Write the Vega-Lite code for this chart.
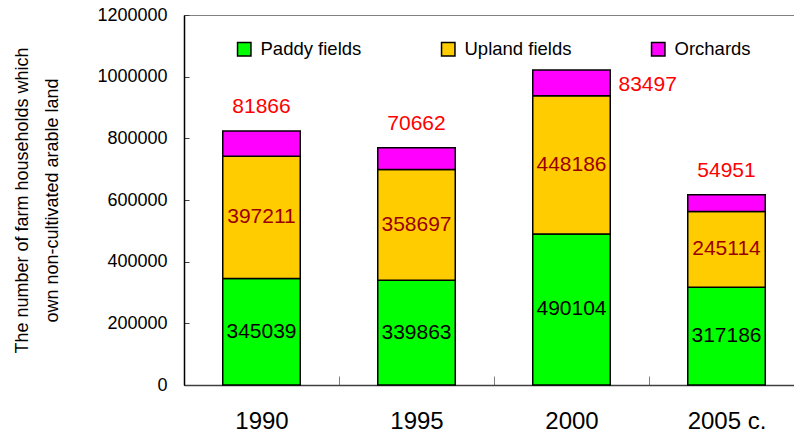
{
  "$schema": "https://vega.github.io/schema/vega-lite/v6.json",
  "width": 610,
  "height": 370,
  "autosize": "none",
  "padding": {"left": 184, "top": 15, "right": 0, "bottom": 56},
  "background": "white",
  "config": {
    "view": {"stroke": "#808080", "strokeWidth": 1},
    "font": "Liberation Sans"
  },
  "data": {
    "values": [
      {"year": "1990", "type": "Paddy fields", "k": 1, "value": 345039},
      {"year": "1990", "type": "Upland fields", "k": 2, "value": 397211},
      {"year": "1990", "type": "Orchards", "k": 3, "value": 81866},
      {"year": "1995", "type": "Paddy fields", "k": 1, "value": 339863},
      {"year": "1995", "type": "Upland fields", "k": 2, "value": 358697},
      {"year": "1995", "type": "Orchards", "k": 3, "value": 70662},
      {"year": "2000", "type": "Paddy fields", "k": 1, "value": 490104},
      {"year": "2000", "type": "Upland fields", "k": 2, "value": 448186},
      {"year": "2000", "type": "Orchards", "k": 3, "value": 83497},
      {"year": "2005 c.", "type": "Paddy fields", "k": 1, "value": 317186},
      {"year": "2005 c.", "type": "Upland fields", "k": 2, "value": 245114},
      {"year": "2005 c.", "type": "Orchards", "k": 3, "value": 54951}
    ]
  },
  "transform": [
    {"stack": "value", "groupby": ["year"], "sort": [{"field": "k"}], "as": ["v0", "v1"]},
    {"calculate": "(datum.v0 + datum.v1) / 2", "as": "mid"}
  ],
  "encoding": {
    "x": {
      "field": "year", "type": "nominal",
      "scale": {"range": [0, 620], "paddingInner": 0, "paddingOuter": 0},
      "axis": {
        "title": null, "labelAngle": 0, "labelFontSize": 24,
        "labelColor": "black", "labelPadding": 33, "tickBand": "extent", "tickSize": -9,
        "tickColor": "#808080", "domainColor": "#404040", "domainWidth": 1.5
      }
    }
  },
  "layer": [
    {
      "mark": {"type": "bar", "stroke": "black", "strokeWidth": 1.5, "width": {"band": 0.5}},
      "encoding": {
        "y": {
          "field": "v1", "type": "quantitative",
          "scale": {"domain": [0, 1200000], "nice": false},
          "axis": {
            "title": ["The number of farm households which", "own non-cultivated arable land"],
            "titleFontSize": 18, "titleFontWeight": "normal", "titleColor": "black", "titleLineHeight": 30,
            "titlePadding": 35,
            "values": [0, 200000, 400000, 600000, 800000, 1000000, 1200000],
            "format": "d", "labelFontSize": 18, "labelColor": "black", "labelPadding": 22,
            "tickSize": -5, "tickColor": "#404040", "domainColor": "black", "domainWidth": 1.5, "grid": false
          }
        },
        "y2": {"field": "v0"},
        "color": {
          "field": "type", "type": "nominal",
          "sort": ["Paddy fields", "Upland fields", "Orchards"],
          "scale": {"domain": ["Paddy fields", "Upland fields", "Orchards"], "range": ["#00FF00", "#FFCC00", "#FF00FF"]},
          "legend": {
            "title": null, "orient": "none", "direction": "horizontal", "legendX": 51, "legendY": 25,
            "symbolType": "square", "symbolSize": 180, "symbolStrokeColor": "black", "symbolStrokeWidth": 1.5,
            "symbolOpacity": 1, "labelFontSize": 18.5, "labelColor": "black", "labelOffset": 7,
            "columnPadding": 76, "padding": 0
          }
        }
      }
    },
    {
      "transform": [{"filter": "datum.type === 'Paddy fields'"}],
      "mark": {"type": "text", "fontSize": 21, "color": "black", "baseline": "middle"},
      "encoding": {"y": {"field": "mid", "type": "quantitative"}, "text": {"field": "value", "type": "nominal"}}
    },
    {
      "transform": [{"filter": "datum.type === 'Upland fields'"}],
      "mark": {"type": "text", "fontSize": 21, "color": "#990000", "baseline": "middle"},
      "encoding": {"y": {"field": "mid", "type": "quantitative"}, "text": {"field": "value", "type": "nominal"}}
    },
    {
      "transform": [{"filter": "datum.type === 'Orchards' && datum.year !== '2000'"}],
      "mark": {"type": "text", "fontSize": 21, "color": "#FF0000", "baseline": "middle", "dy": -24},
      "encoding": {"y": {"field": "v1", "type": "quantitative"}, "text": {"field": "value", "type": "nominal"}}
    },
    {
      "transform": [{"filter": "datum.type === 'Orchards' && datum.year === '2000'"}],
      "mark": {"type": "text", "fontSize": 21, "color": "#FF0000", "baseline": "middle", "align": "left", "dx": 47, "dy": 2},
      "encoding": {"y": {"field": "mid", "type": "quantitative"}, "text": {"field": "value", "type": "nominal"}}
    }
  ]
}
